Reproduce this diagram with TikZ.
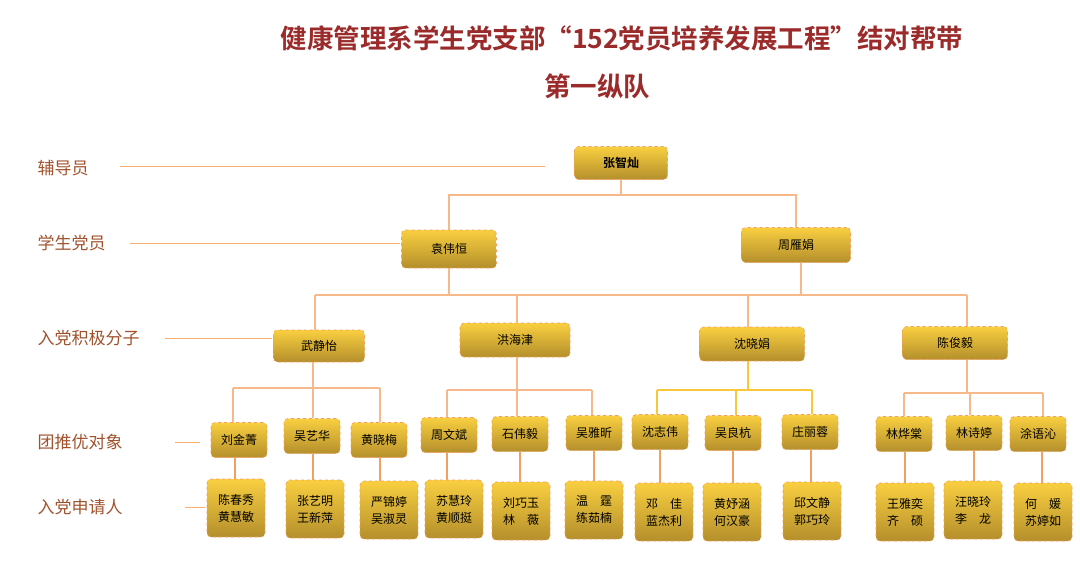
\documentclass[tikz,border=0pt]{standalone}
\usepackage{fontspec}
\setmainfont{Noto Sans CJK SC}
\newfontfamily\cjkb{Noto Sans CJK SC Bold}
\definecolor{ttl}{HTML}{9B2B2B}
\definecolor{lab}{HTML}{A0522D}
\definecolor{ln}{HTML}{F8B98A}
\definecolor{btop}{HTML}{F9CF40}
\definecolor{bbot}{HTML}{B48F2C}
\definecolor{bord}{HTML}{F0A060}
\begin{document}
\begin{tikzpicture}[x=1pt,y=-1pt,
 bx/.style={draw=bord,dashed,line width=0.6pt,rounded corners=4pt,top color=btop,bottom color=bbot,inner sep=0pt,align=center,font=\fontsize{12}{17}\selectfont},
 lbl/.style={text=lab,font=\fontsize{17}{19}\selectfont,anchor=west},
 cn/.style={draw=ln,line width=1.2pt},
 gl/.style={draw=ln!80!orange,line width=0.8pt}]
\useasboundingbox (0,0) rectangle (1080,565);
\node[text=ttl,font=\cjkb\fontsize{26.5}{30}\selectfont] (t1) at (622,38) {健康管理系学生党支部“152党员培养发展工程”结对帮带};
\node[text=ttl,font=\cjkb\fontsize{26.5}{30}\selectfont] (t2) at (597,86) {第一纵队};
% labels
\node[lbl] (l1) at (34,168) {辅导员};
\node[lbl] (l2) at (34,243) {学生党员};
\node[lbl] (l3) at (34,338) {入党积极分子};
\node[lbl] (l4) at (34,442) {团推优对象};
\node[lbl] (l5) at (34,507) {入党申请人};
\coordinate (e1) at (545,166); \coordinate (e2) at (400,243); \coordinate (e3) at (272,338);
\coordinate (e4) at (200,442); \coordinate (e5) at (205,507);
\draw[gl] (120,166) -- (e1); \draw[gl] (130,243) -- (e2); \draw[gl] (165,338) -- (e3);
\draw[gl] (175,442) -- (e4); \draw[gl] (185,507) -- (e5);
% nodes
\node[bx,minimum width=93,minimum height=33] (z) at (621,163) {\cjkb 张智灿};
\node[bx,minimum width=95,minimum height=38] (y) at (449,249) {袁伟恒};
\node[bx,minimum width=109,minimum height=35] (zy) at (796,245) {周雁娟};
\node[bx,minimum width=91,minimum height=32] (w) at (319,346) {武静怡};
\node[bx,minimum width=110,minimum height=34] (h) at (515,340) {洪海津};
\node[bx,minimum width=105,minimum height=34] (s) at (752,344) {沈晓娟};
\node[bx,minimum width=105,minimum height=33] (c) at (955,343) {陈俊毅};
\foreach \n/\x/\y/\t in {a1/239/440/刘金菁,a2/312/436/吴艺华,a3/379/440/黄晓梅,a4/449/435/周文斌,a5/520/434/石伟毅,a6/594/433/吴雅昕,a7/660/432/沈志伟,a8/733/433/吴良杭,a9/810/432/庄丽蓉,a10/904/434/林烨棠,a11/974/433/林诗婷,a12/1038/434/涂语沁}
 \node[bx,minimum width=56,minimum height=35] (\n) at (\x,\y) {\t};
\foreach \n/\x/\y/\t in {b1/236/508/陈春秀\\黄慧敏,b2/315/509/张艺明\\王新萍,b3/389/510/严锦婷\\吴淑灵,b4/454/509/苏慧玲\\黄顺挺,b5/521/511/刘巧玉\\林\quad 薇,b6/594/510/温\quad 霆\\练茹楠,b7/664/512/邓\quad 佳\\蓝杰利,b8/732/512/黄妤涵\\何汉豪,b9/812/511/邱文静\\郭巧玲,b10/905/512/王雅奕\\齐\quad 硕,b11/973/510/汪晓玲\\李\quad 龙,b12/1043/512/何\quad 媛\\苏婷如}
 \node[bx,minimum width=58,minimum height=58] (\n) at (\x,\y) {\t};
% connectors
\draw[cn] (z.south) -- (621,195) -| (y.north);
\draw[cn] (621,195) -| (zy.north);
\draw[cn] (y.south) -- (449,295); \draw[cn] (zy.south) ++(5,0) -- (801,295);
\draw[cn] (315,295) -- (967,295);
\draw[cn] (315,295) -- (w.north -| 315,0); \draw[cn] (517,295) -- (h.north -| 517,0);
\draw[cn] (748,295) -- (s.north -| 748,0); \draw[cn] (967,295) -- (c.north -| 967,0);
\draw[cn] (w.south -| 313,0) -- (313,388); \draw[cn] (233,388) -- (380,388);
\draw[cn] (233,388) -- (a1.north -| 233,0); \draw[cn] (313,388) -- (a2.north -| 313,0); \draw[cn] (380,388) -- (a3.north -| 380,0);
\draw[cn] (h.south -| 517,0) -- (517,390); \draw[cn] (447,390) -- (592,390);
\draw[cn] (447,390) -- (a4.north -| 447,0); \draw[cn] (517,390) -- (a5.north -| 517,0); \draw[cn] (592,390) -- (a6.north -| 592,0);
\draw[cn,draw=btop!90!orange] (s.south -| 748,0) -- (748,390); \draw[cn,draw=btop!90!orange] (657,390) -- (812,390);
\draw[cn,draw=btop!90!orange] (657,390) -- (a7.north -| 657,0); \draw[cn,draw=btop!90!orange] (736,390) -- (a8.north -| 736,0); \draw[cn,draw=btop!90!orange] (812,390) -- (a9.north -| 812,0);
\draw[cn] (c.south -| 967,0) -- (967,393); \draw[cn] (904,393) -- (1043,393);
\draw[cn] (904,393) -- (a10.north -| 904,0); \draw[cn] (970,393) -- (a11.north -| 970,0); \draw[cn] (1043,393) -- (a12.north -| 1043,0);
\foreach \i/\x in {1/235,2/313,3/380,4/447,5/520,6/594,7/660,8/733,9/811,10/905,11/974,12/1042}
 \draw[cn,draw=bord] (a\i.south -| \x,0) -- (b\i.north -| \x,0);
\end{tikzpicture}
\end{document}
